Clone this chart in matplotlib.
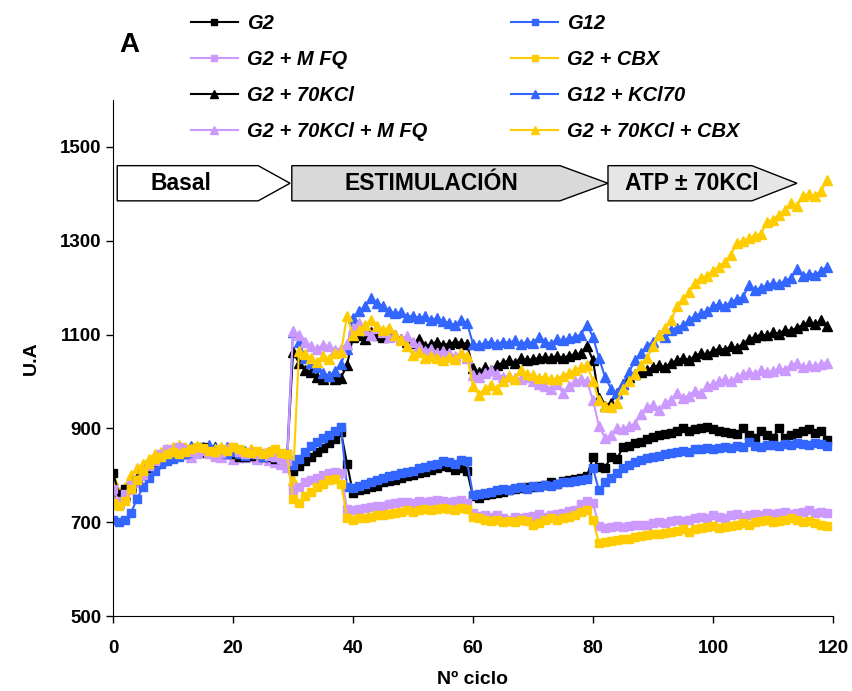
import matplotlib
matplotlib.use("Agg")
import matplotlib.pyplot as plt
from matplotlib.patches import Polygon
import numpy as np

plt.rcParams['font.family'] = ['Liberation Sans', 'DejaVu Sans']
plt.rcParams['font.weight'] = 'bold'

cycles = np.arange(120)

# G2 (squares, black)
g2 = [805, 760, 770, 775, 790, 805, 815, 825, 830, 835, 840, 845, 848, 850, 855, 860, 850, 845, 850, 848,
      845, 840, 838, 842, 845, 840, 838, 835, 840, 832,
      810, 820, 830, 840, 850, 858, 868, 878, 892, 825,
      762, 768, 770, 775, 778, 785, 788, 790, 795, 798, 800, 805, 808, 812, 815, 820, 818, 812, 815, 810,
      755, 752, 758, 760, 762, 765, 768, 770, 772, 775, 775, 778, 780, 785, 782, 788, 790, 792, 795, 798,
      838, 818, 815, 840, 835, 860, 862, 868, 870, 878, 882, 885, 888, 890, 895, 900, 895, 898, 900, 902,
      898, 895, 892, 890, 888, 900, 885, 880, 895, 885, 880, 900, 880, 885, 890, 895, 898, 890, 895, 875]

g12 = [705, 700, 705, 720, 750, 775, 795, 810, 825, 830, 835, 840, 845, 848, 850, 852, 855, 850, 848, 845,
       850, 845, 842, 845, 848, 840, 845, 838, 842, 845,
       822, 835, 850, 862, 872, 880, 886, 894, 902, 775,
       772, 778, 782, 785, 790, 795, 798, 800, 805, 808, 810, 815, 818, 822, 825, 830, 828, 825, 832, 830,
       758, 760, 762, 765, 768, 770, 768, 772, 775, 770, 778, 775, 780, 778, 782, 785, 785, 788, 790, 792,
       815, 768, 785, 795, 805, 815, 822, 828, 832, 836, 840, 842, 845, 848, 850, 852, 850, 855, 856, 858,
       857, 858, 860, 858, 862, 860, 872, 862, 860, 864, 865, 862, 866, 865, 868, 866, 865, 868, 866, 862]

g2_mfq = [770, 745, 760, 780, 790, 800, 820, 830, 845, 855, 850, 860, 855, 850, 845, 852, 845, 840, 848, 855,
          860, 850, 845, 850, 845, 848, 842, 840, 835, 830,
          768, 775, 785, 790, 795, 800, 805, 808, 805, 728,
          725, 728, 730, 732, 735, 735, 738, 740, 742, 742, 740, 745, 742, 745, 748, 745, 742, 745, 748, 740,
          720, 713, 715, 712, 715, 708, 705, 712, 710, 712, 713, 718, 712, 715, 718, 720, 723, 725, 738, 745,
          740, 692, 688, 690, 692, 690, 692, 695, 693, 695, 698, 700, 698, 702, 705, 703, 705, 708, 712, 710,
          715, 712, 710, 715, 718, 712, 715, 718, 715, 720, 718, 720, 722, 718, 720, 722, 725, 720, 722, 720]

g2_cbx = [740, 735, 745, 770, 790, 810, 825, 835, 840, 845, 850, 845, 850, 855, 860, 858, 852, 850, 855, 852,
          860, 855, 850, 848, 852, 845, 850, 855, 848, 845,
          750, 740, 755, 765, 775, 782, 790, 792, 782, 710,
          705, 708, 710, 712, 715, 715, 718, 720, 722, 725, 722, 725, 728, 725, 728, 730, 728, 725, 730, 728,
          712, 708, 705, 702, 705, 700, 702, 700, 705, 702, 695, 698, 705, 708, 705, 710, 712, 715, 722, 725,
          705, 655, 658, 660, 662, 665, 665, 668, 670, 672, 675, 675, 678, 680, 682, 685, 680, 685, 688, 690,
          692, 688, 690, 692, 695, 698, 695, 700, 702, 705, 700, 702, 705, 708, 705, 700, 702, 698, 695, 692]

g2_kcl = [770, 750, 760, 780, 795, 805, 820, 830, 840, 845, 850, 855, 850, 860, 855, 850, 855, 860, 852, 850,
          855, 845, 850, 852, 848, 845, 850, 842, 835, 830,
          1062, 1040, 1025, 1020, 1010, 1005, 1012, 1005, 1008, 1035,
          1095, 1100, 1090, 1105, 1098, 1095, 1105, 1100, 1090, 1085, 1082, 1090, 1075, 1080, 1085, 1078, 1080, 1085, 1082, 1080,
          1028, 1020, 1030, 1025, 1035, 1040, 1045, 1040, 1050, 1045, 1048, 1050, 1052, 1050, 1055, 1050, 1055, 1058, 1060, 1075,
          1045, 965, 948, 955, 975, 995, 1010, 1015, 1020, 1025, 1030, 1035, 1030, 1040, 1045, 1050, 1045, 1055, 1060, 1058,
          1065, 1070, 1068, 1075, 1072, 1080, 1090, 1095, 1100, 1098, 1105, 1102, 1110, 1108, 1115, 1120, 1128, 1122, 1130, 1118]

g12_kcl = [760, 740, 755, 775, 790, 805, 820, 835, 845, 850, 855, 850, 858, 862, 855, 860, 865, 858, 852, 860,
           855, 848, 852, 845, 840, 845, 850, 842, 838, 840,
           1105, 1085, 1050, 1040, 1030, 1018, 1012, 1022, 1038, 1070,
           1135, 1150, 1160, 1178, 1168, 1160, 1150, 1145, 1148, 1138, 1140, 1135, 1140, 1130, 1135, 1128, 1125, 1120, 1130, 1125,
           1080, 1078, 1082, 1085, 1080, 1085, 1082, 1088, 1080, 1085, 1082, 1095, 1085, 1080, 1090, 1088, 1092, 1095, 1100, 1120,
           1095, 1050, 1010, 985, 975, 995, 1020, 1045, 1060, 1075, 1085, 1098, 1095, 1110, 1115, 1120, 1130, 1140, 1145, 1150,
           1160, 1165, 1160, 1170, 1175, 1180, 1205, 1195, 1200, 1205, 1210, 1208, 1215, 1220, 1240, 1225, 1230, 1228, 1235, 1245]

g2_kcl_mfq = [760, 740, 755, 770, 785, 800, 815, 825, 830, 840, 845, 850, 845, 840, 850, 855, 850, 845, 840, 845,
              835, 840, 838, 842, 835, 840, 832, 828, 825, 818,
              1108, 1100, 1085, 1075, 1070, 1078, 1075, 1068, 1070, 1080,
              1115, 1125, 1110, 1100, 1115, 1105, 1095, 1100, 1090, 1096, 1085, 1075, 1066, 1070, 1060, 1066, 1060, 1055, 1060, 1050,
              1013, 1010, 1018, 1024, 1015, 1010, 1012, 1008, 1005, 1010, 1000, 995, 990, 985, 995, 975, 990, 1000, 1005, 1000,
              960, 905, 880, 885, 900, 898, 905, 910, 930, 945, 950, 940, 955, 960, 975, 965, 970, 980, 975, 990,
              995, 1000, 1005, 1000, 1010, 1015, 1020, 1015, 1025, 1020, 1022, 1028, 1025, 1035, 1040, 1030, 1035, 1032, 1038, 1040]

g2_kcl_cbx = [790, 765, 775, 800, 815, 825, 835, 845, 850, 855, 860, 865, 860, 855, 862, 858, 850, 855, 860, 855,
              850, 845, 850, 855, 848, 845, 850, 852, 840, 835,
              790, 1065, 1058, 1050, 1042, 1055, 1048, 1060, 1062, 1140,
              1098, 1110, 1120, 1130, 1118, 1110, 1115, 1100, 1088, 1075, 1056, 1062, 1049, 1055, 1050, 1045, 1052, 1048, 1060, 1055,
              990, 971, 985, 992, 985, 1000, 1011, 1005, 1024, 1015, 1013, 1008, 1010, 1005, 1006, 1012, 1018, 1024, 1030, 1036,
              1000, 960, 948, 945, 955, 985, 1000, 1015, 1035, 1050, 1075, 1100, 1115, 1130, 1160, 1175, 1190, 1210, 1220, 1225,
              1235, 1245, 1255, 1270, 1295, 1300, 1305, 1310, 1315, 1340, 1345, 1355, 1365, 1380, 1375, 1395, 1400, 1395, 1405, 1430]

black = '#000000'
blue = '#3366ff'
lilac = '#cc99ff'
yellow = '#ffcc00'

fig = plt.figure(figsize=(8.53, 6.91), dpi=100)
ax = fig.add_axes([0.1325, 0.1085, 0.844, 0.7468])

series = [
    (g2, black, 's', 'G2'),
    (g2_mfq, lilac, 's', 'G2 + M FQ'),
    (g2_kcl, black, '^', 'G2 + 70KCl'),
    (g2_kcl_mfq, lilac, '^', 'G2 + 70KCl + M FQ'),
    (g12, blue, 's', 'G12'),
    (g2_cbx, yellow, 's', 'G2 + CBX'),
    (g12_kcl, blue, '^', 'G12 + KCl70'),
    (g2_kcl_cbx, yellow, '^', 'G2 + 70KCl + CBX'),
]
draw_order = [2, 6, 3, 7, 0, 4, 1, 5]
handles = {}
for i in draw_order:
    vals, col, mk, lab = series[i]
    ms = 5.5 if mk == 's' else 7
    h, = ax.plot(cycles, vals, color=col, marker=mk, ms=ms, lw=1.5, mec=col, mfc=col, label=lab)
    handles[i] = h

ax.set_xlim(0, 120)
ax.set_ylim(500, 1600)
ax.set_xticks(range(0, 121, 20))
ax.set_yticks(range(500, 1501, 200))
ax.spines['top'].set_visible(False)
ax.spines['right'].set_visible(False)
ax.tick_params(direction='out', length=5, width=1, labelsize=13.5)
ax.tick_params(axis='x', pad=12)
for lbl in ax.get_xticklabels() + ax.get_yticklabels():
    lbl.set_fontweight('bold')
ax.set_xlabel('Nº ciclo', fontsize=14, fontweight='bold', labelpad=10)
ax.set_ylabel('U.A', fontsize=14, fontweight='bold', labelpad=14)

# phase arrows
phases = [
    ('Basal', 0.7, 24.2, 29.5, 'white', 11.3),
    ('ESTIMULACIÓN', 29.8, 74.5, 82.5, '#d9d9d9', 53),
    ('ATP ± 70KCl', 82.5, 106.5, 114, '#e6e6e6', 96.5),
]
ylo, yhi = 1385, 1460
for txt, x0, x1, xt, fc, xc in phases:
    poly = Polygon([(x0, ylo), (x1, ylo), (xt, (ylo + yhi) / 2), (x1, yhi), (x0, yhi)],
                   closed=True, facecolor=fc, edgecolor='black', lw=1, zorder=5)
    ax.add_patch(poly)
    ax.text(xc, (ylo + yhi) / 2, txt, ha='center', va='center',
            fontsize=16.5, fontweight='bold', zorder=6)

fig.text(0.152, 0.935, 'A', fontsize=20, fontweight='bold', ha='center', va='center')

leg = fig.legend([handles[i] for i in range(8)], [s[3] for s in series], ncol=2,
                 loc='upper left', bbox_to_anchor=(0.203, 1.006), frameon=False,
                 prop={'size': 14.5, 'weight': 'bold', 'style': 'italic'},
                 handlelength=2.3, handletextpad=0.45, labelspacing=0.85, columnspacing=4.2,
                 markerscale=0.75)

fig.savefig('out.png', dpi=100)
